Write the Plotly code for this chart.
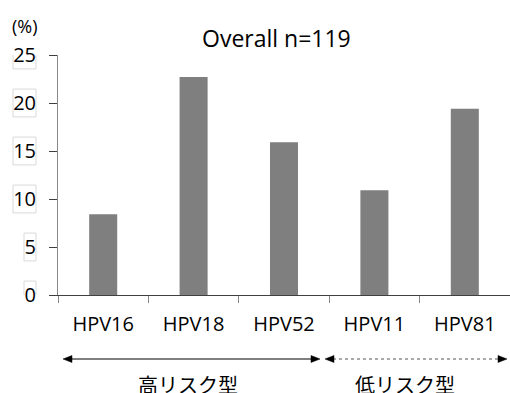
import plotly.graph_objects as go

categories = ["HPV16", "HPV18", "HPV52", "HPV11", "HPV81"]
values = [8.4, 22.7, 15.9, 10.9, 19.4]
y_ticks = [0, 5, 10, 15, 20, 25]
title_text = "Overall n=119"
unit_text = "(%)"
group_labels = ["高リスク型", "低リスク型"]

FONT = "Open Sans, Noto Sans CJK JP, sans-serif"

fig = go.Figure()
fig.add_trace(go.Bar(
    x=categories, y=values,
    marker=dict(color="#7f7f7f", line=dict(width=0)),
    width=0.31,
))

W, H = 510, 393
L, R, T, B = 58, 0, 55, 393 - 295
pw = W - L - R
ph = H - T - B

def px(x):  # page pixel -> paper x
    return (x - L) / pw

def py(y):  # page pixel -> paper y
    return (H - B - y) / ph

def head(tip_x, y, direction):
    # filled triangle arrowhead; direction=+1 points right, -1 points left
    base = tip_x - direction * 9
    return dict(type="path", xref="paper", yref="paper",
                path=f"M {px(tip_x)} {py(y)} L {px(base)} {py(y - 3.5)} L {px(base)} {py(y + 3.5)} Z",
                fillcolor="#000", line=dict(color="#000", width=0.5))

annotations = [
    dict(text=title_text, x=px(276), y=py(38), xref="paper", yref="paper",
         showarrow=False, font=dict(size=23, color="#000"), xanchor="center", yanchor="middle"),
    dict(text=unit_text, x=px(25), y=py(26), xref="paper", yref="paper",
         showarrow=False, font=dict(size=18, color="#000"), xanchor="center", yanchor="middle"),
    dict(text=group_labels[0], x=px(188), y=py(385), xref="paper", yref="paper",
         showarrow=False, font=dict(size=20, color="#000"), xanchor="center", yanchor="middle"),
    dict(text=group_labels[1], x=px(405), y=py(385), xref="paper", yref="paper",
         showarrow=False, font=dict(size=20, color="#000"), xanchor="center", yanchor="middle"),
]

ARROW_Y = 359
shapes = [
    dict(type="line", xref="paper", yref="paper", x0=px(68), x1=px(315), y0=py(ARROW_Y), y1=py(ARROW_Y),
         line=dict(color="#000", width=1.2)),
    head(63, ARROW_Y, -1),
    head(320, ARROW_Y, +1),
    dict(type="line", xref="paper", yref="paper", x0=px(333), x1=px(498), y0=py(ARROW_Y), y1=py(ARROW_Y),
         line=dict(color="#555", width=1.2, dash="dot")),
    head(325, ARROW_Y, -1),
    head(507, ARROW_Y, +1),
]
# faint text boxes around the y tick labels
for v in y_ticks:
    left = 13 if v >= 10 else 24
    shapes.append(dict(type="rect", xref="paper", yref="y",
                       x0=px(left), x1=px(36), y0=v - 1.45, y1=v + 1.45,
                       line=dict(color="#d9d9d9", width=1), fillcolor="rgba(0,0,0,0)",
                       layer="below"))

fig.update_layout(
    width=W, height=H,
    margin=dict(l=L, r=R, t=T, b=B, autoexpand=False),
    paper_bgcolor="white", plot_bgcolor="white",
    font=dict(family=FONT, size=20, color="#000"),
    showlegend=False,
    annotations=annotations,
    shapes=shapes,
)
fig.update_xaxes(
    type="category", range=[-0.5, 4.5],
    showline=True, linecolor="#404040", linewidth=1,
    ticks="outside", ticklen=7, tickcolor="#888", tickson="boundaries",
    showgrid=False, tickfont=dict(size=20), ticklabelstandoff=11,
)
fig.update_yaxes(
    range=[0, 25], tickvals=y_ticks,
    showline=True, linecolor="#888", linewidth=1,
    ticks="outside", ticklen=8, tickcolor="#404040",
    showgrid=False, zeroline=False, tickfont=dict(size=20), ticklabelstandoff=9,
)

fig.write_html(
    "out.html",
    config={"displayModeBar": False},
    post_script="document.body.style.margin='0';document.body.style.overflow='hidden';",
)
